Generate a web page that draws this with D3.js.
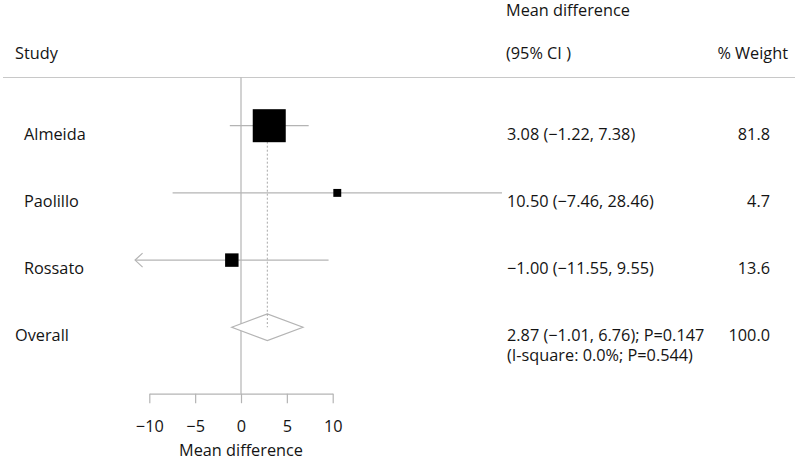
<!DOCTYPE html>
<html>
<head>
<meta charset="utf-8">
<script src="https://cdn.jsdelivr.net/npm/d3@7"></script>
<style>
  html, body { margin: 0; padding: 0; background: #fff; }
  svg { display: block; }
  text { font-family: "Open Sans", "Noto Sans", sans-serif; fill: #141414; }
</style>
</head>
<body>
<svg id="chart" width="800" height="461"></svg>
<script>
// ---- data ----
const studies = ["Almeida", "Paolillo", "Rossato"];
const estimates = [3.08, 10.50, -1.00];
const lowerCI = [-1.22, -7.46, -11.55];
const upperCI = [7.38, 28.46, 9.55];
const weights = [81.8, 4.7, 13.6];
const ciLabels = ["3.08 (\u22121.22, 7.38)", "10.50 (\u22127.46, 28.46)", "\u22121.00 (\u221211.55, 9.55)"];
const weightLabels = ["81.8", "4.7", "13.6"];
const overallLabel = "Overall";
const overallEstimate = 2.87;
const overallLower = -1.01;
const overallUpper = 6.76;
const overallCILabel = "2.87 (\u22121.01, 6.76); P=0.147";
const overallHetLabel = "(I-square: 0.0%; P=0.544)";
const overallWeightLabel = "100.0";
const xTicks = [-10, -5, 0, 5, 10];
const headerStudy = "Study";
const headerEffect1 = "Mean difference";
const headerEffect2 = "(95% CI )";
const headerWeight = "% Weight";
const xAxisTitle = "Mean difference";

// ---- layout ----
const svg = d3.select("#chart");
const FS = 16.3;
const x = d3.scaleLinear().domain([-10, 10]).range([149.3, 332.7]);
const rowsAll = studies.concat([overallLabel]);
const y = d3.scalePoint().domain(rowsAll).range([125.7, 327.3]);
const side = d3.scaleSqrt().domain([0, 100]).range([0, 36.5]);
const textOff = 14;
const axisY = 393.7;
const lineGray = "#b4b4b4";

// header
svg.append("text").attr("x", 506).attr("y", 16).attr("font-size", FS).text(headerEffect1);
svg.append("text").attr("x", 15).attr("y", 59.3).attr("font-size", FS).text(headerStudy);
svg.append("text").attr("x", 506).attr("y", 59.3).attr("font-size", FS).text(headerEffect2);
svg.append("text").attr("x", 788).attr("y", 59.3).attr("font-size", FS).attr("text-anchor", "end").text(headerWeight);
svg.append("line").attr("x1", 3).attr("x2", 795).attr("y1", 77.5).attr("y2", 77.5)
  .attr("stroke", "#c8c8c8").attr("stroke-width", 1.2);

// zero line
svg.append("line").attr("x1", x(0)).attr("x2", x(0)).attr("y1", 77.5).attr("y2", axisY)
  .attr("stroke", lineGray).attr("stroke-width", 1.2);

// overall effect dashed line
svg.append("line").attr("x1", x(overallEstimate)).attr("x2", x(overallEstimate))
  .attr("y1", y(studies[0])).attr("y2", y(overallLabel))
  .attr("stroke", "#a8a8a8").attr("stroke-width", 1).attr("stroke-dasharray", "2,2");

const data = studies.map((s, i) => ({
  study: s, est: estimates[i], lo: lowerCI[i], hi: upperCI[i], w: weights[i],
  ci: ciLabels[i], wl: weightLabels[i]
}));

const [dMin] = x.domain();
// CI lines
data.forEach(d => {
  const cy = y(d.study);
  svg.append("line").attr("x1", x(d.lo)).attr("x2", x(d.hi)).attr("y1", cy).attr("y2", cy)
    .attr("stroke", lineGray).attr("stroke-width", 1.2);
  if (d.lo < dMin) {
    const tx = x(d.lo);
    svg.append("path")
      .attr("d", `M${tx + 7.5},${cy - 7} L${tx},${cy} L${tx + 7.5},${cy + 7}`)
      .attr("fill", "none").attr("stroke", lineGray).attr("stroke-width", 1.2);
  }
});

// squares
svg.selectAll("rect.box").data(data).enter().append("rect").attr("class", "box")
  .attr("x", d => x(d.est) - side(d.w) / 2)
  .attr("y", d => y(d.study) - side(d.w) / 2)
  .attr("width", d => side(d.w)).attr("height", d => side(d.w))
  .attr("fill", "#000");

// diamond
const oy = y(overallLabel);
const dh = 13.3;
svg.append("path")
  .attr("d", `M${x(overallLower)},${oy} L${x(overallEstimate)},${oy - dh} L${x(overallUpper)},${oy} L${x(overallEstimate)},${oy + dh} Z`)
  .attr("fill", "#fff").attr("stroke", lineGray).attr("stroke-width", 1.2);
svg.append("line").attr("x1", x(overallEstimate)).attr("x2", x(overallEstimate))
  .attr("y1", oy - dh).attr("y2", oy)
  .attr("stroke", "#a8a8a8").attr("stroke-width", 1).attr("stroke-dasharray", "2,2");

// row texts
svg.selectAll("text.study").data(data).enter().append("text").attr("class", "study")
  .attr("x", 24).attr("y", d => y(d.study) + textOff).attr("font-size", FS).text(d => d.study);
svg.selectAll("text.ci").data(data).enter().append("text").attr("class", "ci")
  .attr("x", 507).attr("y", d => y(d.study) + textOff).attr("font-size", FS).text(d => d.ci);
svg.selectAll("text.wt").data(data).enter().append("text").attr("class", "wt")
  .attr("x", 770).attr("text-anchor", "end").attr("y", d => y(d.study) + textOff).attr("font-size", FS).text(d => d.wl);

svg.append("text").attr("x", 15).attr("y", oy + textOff).attr("font-size", FS).text(overallLabel);
svg.append("text").attr("x", 507).attr("y", oy + textOff).attr("font-size", FS).text(overallCILabel);
svg.append("text").attr("x", 507).attr("y", oy + textOff + 20).attr("font-size", FS).text(overallHetLabel);
svg.append("text").attr("x", 770).attr("text-anchor", "end").attr("y", oy + textOff).attr("font-size", FS).text(overallWeightLabel);

// axis
const axis = d3.axisBottom(x).tickValues(xTicks).tickSizeInner(9.5).tickSizeOuter(0)
  .tickFormat(d3.format("d"));
const gA = svg.append("g").attr("transform", `translate(0,${axisY})`).call(axis);
gA.attr("font-family", null).attr("font-size", null);
gA.select(".domain").attr("stroke", lineGray).attr("stroke-width", 1.2);
gA.selectAll(".tick line").attr("stroke", lineGray).attr("stroke-width", 1.2);
gA.selectAll(".tick text").attr("font-size", FS)
  .attr("y", 38).attr("dy", 0).attr("fill", "#141414");

svg.append("text").attr("x", x(0)).attr("y", 456).attr("text-anchor", "middle")
  .attr("font-size", FS).text(xAxisTitle);
</script>
</body>
</html>
